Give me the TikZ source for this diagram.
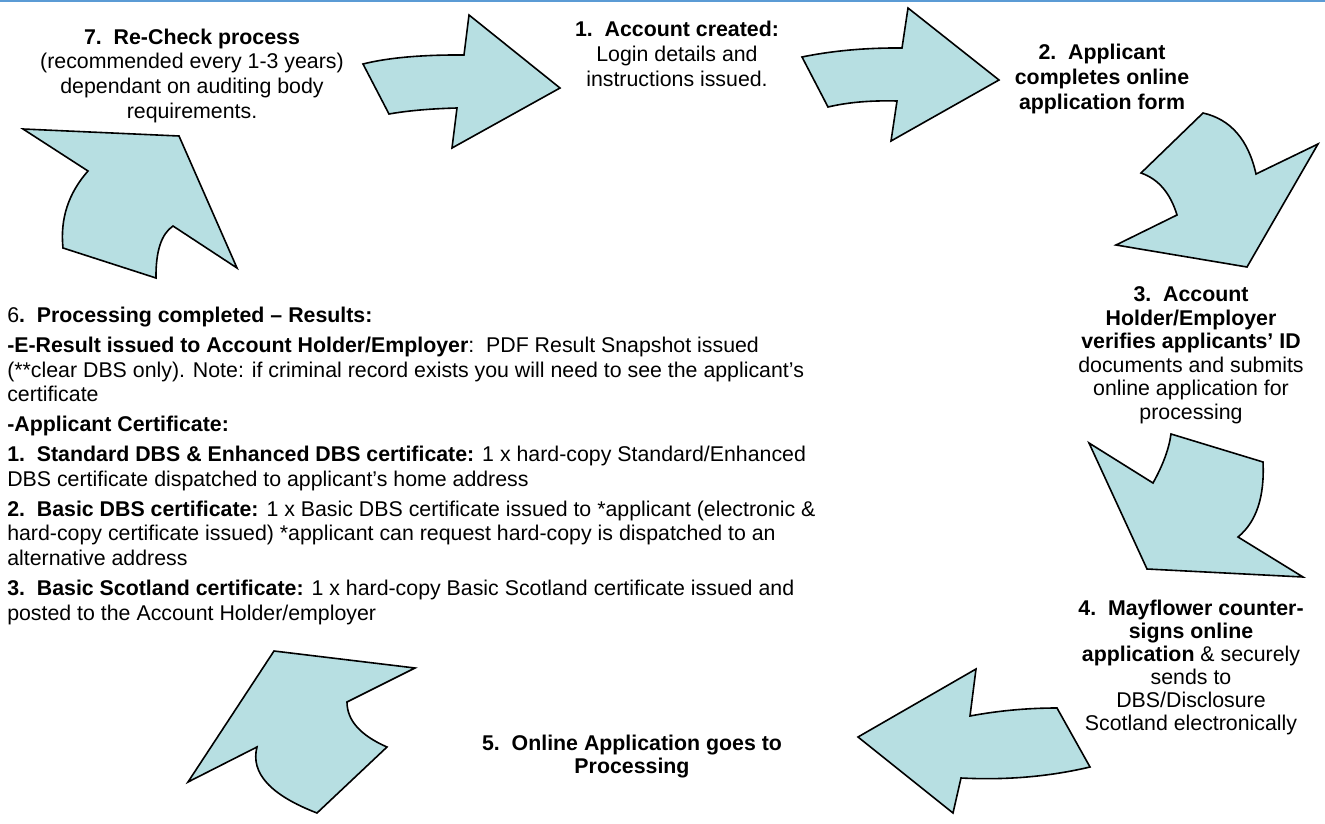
\documentclass[tikz,border=0pt]{standalone}
\usepackage{fontspec}
\setmainfont{Liberation Sans}
\definecolor{arrowfill}{RGB}{183,223,226}
\definecolor{rulecol}{RGB}{91,155,213}
\usetikzlibrary{positioning}

\begin{document}
\begin{tikzpicture}[x=0.75pt, y=-0.75pt,
  cyclearrow/.style={draw=black, fill=arrowfill, line width=1.2pt},
  stagetext/.style={font=\fontsize{16}{18.4}\selectfont, align=center, inner sep=0pt, anchor=base},
  resulttext/.style={font=\fontsize{16}{18.4}\selectfont, align=left, inner sep=0pt, anchor=base west}]
  \useasboundingbox (0,0) rectangle (1325,824);
  \draw[rulecol, line width=1.5pt] (0,1) -- (1325,1);

  \draw[cyclearrow] (23,129) -- (179,136) -- (237,268) -- (173,226) .. controls (161.3,234) and (155.7,251.3) .. (156,278) -- (63,248) .. controls (60,219) and (68.3,193.3) .. (88,171) -- cycle;
  \draw[cyclearrow] (363,64) .. controls (388,57.7) and (421.7,54.7) .. (464,55) -- (469,15) -- (560,88) -- (452,148) -- (457,108) .. controls (430.3,108.7) and (407.7,110.7) .. (389,114) -- cycle;
  \draw[cyclearrow] (802,57) .. controls (832.7,50.7) and (866,47.7) .. (902,48) -- (908,8) -- (999,80) -- (891,141) -- (897,101) .. controls (870.7,100.3) and (847.7,102.3) .. (828,107) -- cycle;
  \draw[cyclearrow] (1203,113) .. controls (1230.7,119.3) and (1248.3,139.7) .. (1256,174) -- (1318,144) -- (1247,267) -- (1116,245) -- (1177,215) .. controls (1170.3,193) and (1158.3,179) .. (1141,173) -- cycle;
  \draw[cyclearrow] (1089,443) -- (1153,483) .. controls (1163,465) and (1169,448.7) .. (1171,434) -- (1263,462) .. controls (1264.7,497) and (1256.3,522) .. (1238,537) -- (1303,577) -- (1147,569) -- cycle;
  \draw[cyclearrow] (976,669) -- (858,737) -- (953,813) -- (961,778) .. controls (1006,780.3) and (1049,776.7) .. (1090,767) -- (1057,708) .. controls (1027.3,708) and (998.3,710.7) .. (970,716) -- cycle;
  \draw[cyclearrow] (274,651) -- (415,668) -- (347,702) .. controls (347,720.3) and (360.3,735.3) .. (387,747) -- (317,813) .. controls (270.3,795) and (250.3,773) .. (257,747) -- (188,782) -- cycle;

  \node[stagetext] (recheck) at (192,118) {\textbf{7.\ \ Re-Check process}\\(recommended every 1-3 years)\\dependant on auditing body\\requirements.};
  \node[stagetext, font=\fontsize{16}{18.75}\selectfont] (created) at (677,87) {\textbf{1.\ \ Account created:}\\Login details and\\instructions issued.};
  \node[stagetext, font=\fontsize{16}{18.4}\selectfont\bfseries] (completes) at (1102,109) {2.\ \ Applicant\\completes online\\application form};
  \node[stagetext, font=\fontsize{16}{17.6}\selectfont] (verifies) at (1191,419) {\textbf{3.\ \ Account}\\\textbf{Holder/Employer}\\\textbf{verifies applicants’ ID}\\documents and submits\\online application for\\processing};
  \node[stagetext, font=\fontsize{16}{17.25}\selectfont] (countersigns) at (1191,730) {\textbf{4.\ \ Mayflower counter-}\\\textbf{signs online}\\\textbf{application} \& securely\\sends to\\DBS/Disclosure\\Scotland electronically};
  \node[stagetext, font=\fontsize{16}{17.25}\selectfont\bfseries] (processing) at (632,773) {5.\ \ Online Application goes to\\Processing};
  \node[resulttext] (results) at (7,620) {6\textbf{.\ \ Processing completed – Results:}\\[4.1pt]
    \textbf{-E-Result issued to Account Holder/Employer}:\ \ PDF Result Snapshot issued\\
    (**clear DBS only). Note: if criminal record exists you will need to see the applicant’s\\
    certificate\\[4.1pt]
    \textbf{-Applicant Certificate:}\\[4.1pt]
    \textbf{1.\ \ Standard DBS \& Enhanced DBS certificate:} 1 x hard-copy Standard/Enhanced\\
    DBS certificate dispatched to applicant’s home address\\[4.1pt]
    \textbf{2.\ \ Basic DBS certificate:} 1 x Basic DBS certificate issued to *applicant (electronic \&\\
    hard-copy certificate issued) *applicant can request hard-copy is dispatched to an\\
    alternative address\\[4.1pt]
    \textbf{3.\ \ Basic Scotland certificate:} 1 x hard-copy Basic Scotland certificate issued and\\
    posted to the Account Holder/employer};
\end{tikzpicture}
\end{document}
